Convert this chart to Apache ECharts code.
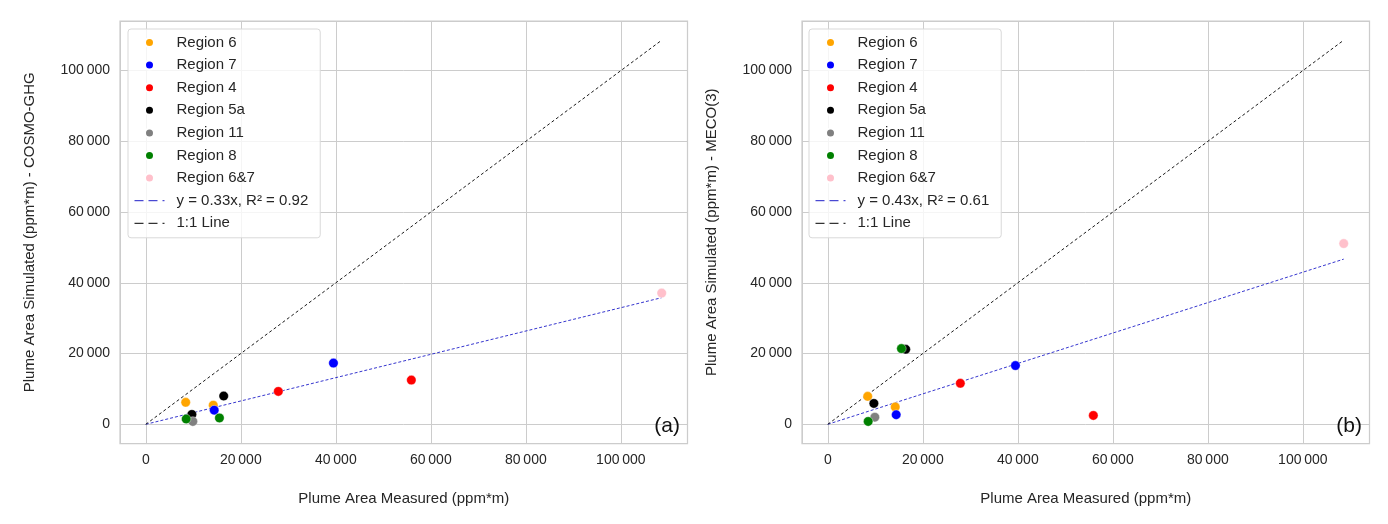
<!DOCTYPE html>
<html>
<head>
<meta charset="utf-8">
<script src="https://cdn.jsdelivr.net/npm/echarts@6/dist/echarts.min.js"></script>
<style>
  html, body { margin: 0; background: #fff; }
  #chart { width: 1388px; height: 524px; }
</style>
</head>
<body>
<div id="chart"></div>
<script>
// regions, in legend order
const regions = ['Region 6', 'Region 7', 'Region 4', 'Region 5a', 'Region 11', 'Region 8', 'Region 6&7'];
const regionColors = ['#ffa500', '#0000ff', '#ff0000', '#000000', '#808080', '#008000', '#ffc0cb'];

// measured plume area (ppm*m), one list per region
const measured = [[8400, 14200], [14400, 39500], [27900, 55900], [16400, 9700], [9900], [8500, 15500], [108600]];
// simulated plume area, same order as measured
const simCosmo = [[6200, 5400], [4000, 17300], [9300, 12500], [8000, 2800], [800], [1500, 1800], [37100]];
const simMeco = [[7900, 4900], [2700, 16600], [11600, 2500], [21200, 5900], [2000], [800, 21400], [51100]];

// fit lines and 1:1 line end points
const lineX = [0, 108600];
const fitCosmo = [0, 35800];
const fitMeco = [0, 46700];
const oneToOne = [0, 108600];

const fitNames = ['y = 0.33x, R² = 0.92', 'y = 0.43x, R² = 0.61'];
const yNames = ['Plume Area Simulated (ppm*m) - COSMO-GHG', 'Plume Area Simulated (ppm*m) - MECO(3)'];
const panelTags = ['(a)', '(b)'];

const FONT = 'Liberation Sans, Arial, sans-serif';
const TXT = '#262626';
const GRID_C = '#cccccc';

const fmt = v => String(Math.round(v)).replace(/\B(?=(\d{3})+(?!\d))/g, '\u2009');

const grids = [
  { left: 120, top: 21, width: 567.5, height: 422.5 },
  { left: 802, top: 21, width: 567.5, height: 422.5 }
];

function axisCommon(i) {
  return {
    type: 'value',
    gridIndex: i,
    min: -5430,
    max: 114030,
    axisLine: { show: false },
    axisTick: { show: false },
    splitLine: { show: true, lineStyle: { color: GRID_C, width: 1 } },
    axisLabel: {
      showMinLabel: false, showMaxLabel: false,
      color: TXT, fontSize: 14, fontFamily: FONT, margin: 10,
      formatter: fmt
    },
    nameLocation: 'middle',
    nameTextStyle: { color: TXT, fontSize: 15, fontFamily: FONT }
  };
}

const xAxis = [0, 1].map(i => Object.assign(axisCommon(i), {
  name: 'Plume Area Measured (ppm*m)', nameGap: 48
}));
const yAxis = [0, 1].map(i => Object.assign(axisCommon(i), {
  name: yNames[i], nameGap: 83
}));

const series = [];
[simCosmo, simMeco].forEach((sim, i) => {
  const fit = i === 0 ? fitCosmo : fitMeco;
  series.push({
    name: fitNames[i], type: 'line', xAxisIndex: i, yAxisIndex: i,
    data: lineX.map((x, k) => [x, fit[k]]),
    symbol: 'none', z: 1, silent: true,
    lineStyle: { color: '#1f1fc8', width: 0.9, type: [3, 2] }
  });
  series.push({
    name: '1:1 Line', type: 'line', xAxisIndex: i, yAxisIndex: i,
    data: lineX.map((x, k) => [x, oneToOne[k]]),
    symbol: 'none', z: 1, silent: true,
    lineStyle: { color: '#000000', width: 0.9, type: [3, 2.5] }
  });
  regions.forEach((r, j) => {
    series.push({
      name: r, type: 'scatter', xAxisIndex: i, yAxisIndex: i,
      data: measured[j].map((x, k) => [x, sim[j][k]]),
      symbol: 'circle', symbolSize: 9.5, z: 3,
      itemStyle: { color: regionColors[j], opacity: 1, borderColor: '#ffffff', borderWidth: 0.4 }
    });
  });
});

// legend line entries: no marker, a longer dash like the reference handles
const hiddenSymbol = { opacity: 0, color: 'rgba(0,0,0,0)', borderWidth: 0 };
const legendDash = { type: [9, 5], width: 1 };

const legend = [128, 809].map((left, i) => ({
  orient: 'vertical',
  left: left, top: 29,
  data: [
    ...regions.map(r => ({ name: r, icon: 'circle' })),
    { name: fitNames[i], itemStyle: hiddenSymbol, lineStyle: legendDash },
    { name: '1:1 Line', itemStyle: hiddenSymbol, lineStyle: legendDash }
  ],
  itemWidth: 30, itemHeight: 9, itemGap: 5.6,
  padding: [5, 12, 6, 6],
  backgroundColor: 'rgba(255,255,255,0.8)',
  borderColor: '#d9d9d9', borderWidth: 1, borderRadius: 3,
  selectedMode: false,
  textStyle: { fontSize: 15, color: TXT, fontFamily: FONT, lineHeight: 17, padding: [0, 0, 0, 7] }
}));

const chart = echarts.init(document.getElementById('chart'));
chart.setOption({
  animation: false,
  backgroundColor: '#ffffff',
  grid: grids.map(g => Object.assign({ show: true, borderColor: GRID_C, borderWidth: 1.25 }, g)),
  xAxis: xAxis,
  yAxis: yAxis,
  legend: legend,
  graphic: [708, 26].map((right, i) => ({
    type: 'text', right: right, top: 416, z: 10,
    style: { text: panelTags[i], fontSize: 21, fontFamily: FONT, fill: '#111111' }
  })),
  series: series
});
</script>
</body>
</html>
